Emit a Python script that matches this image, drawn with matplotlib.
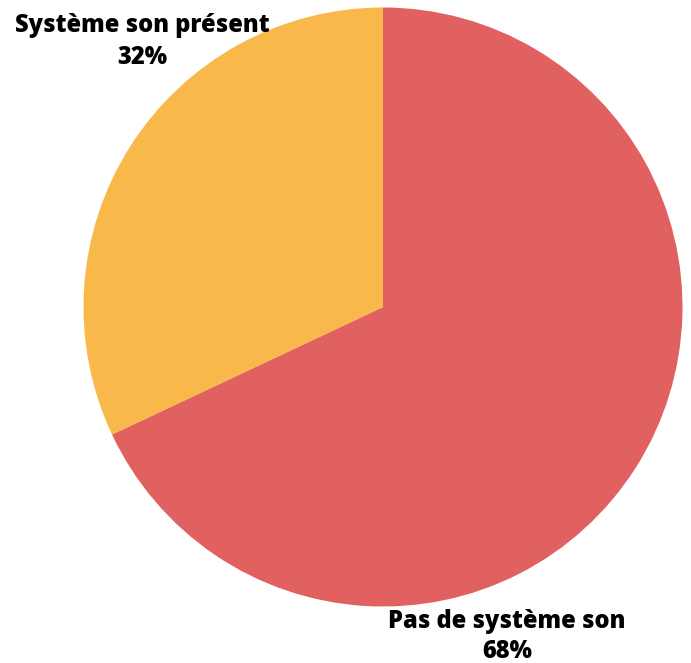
import matplotlib.pyplot as plt

labels = ['Pas de système son', 'Système son présent']
shares = [68, 32]
colors = ['#E16060', '#F9B94A']

fig = plt.figure(figsize=(6.91, 6.63), dpi=100)
ax = fig.add_axes([0, 0, 1, 1])

ax.pie(shares, colors=colors, startangle=90, counterclock=False,
       center=(383, 356), radius=299.5, frame=True)
ax.set_xlim(0, 691)
ax.set_ylim(0, 663)
ax.set_aspect('equal')
ax.axis('off')

font = dict(family='Open Sans', weight='heavy', fontsize=17, color='black',
            ha='center', va='center')
for (x, y1, y2), lab, s in zip([(507, 42, 11), (142, 638, 606)], labels, shares):
    ax.text(x, y1, lab, **font)
    ax.text(x, y2, f'{s}%', **font)

fig.savefig('out.png', dpi=100)
